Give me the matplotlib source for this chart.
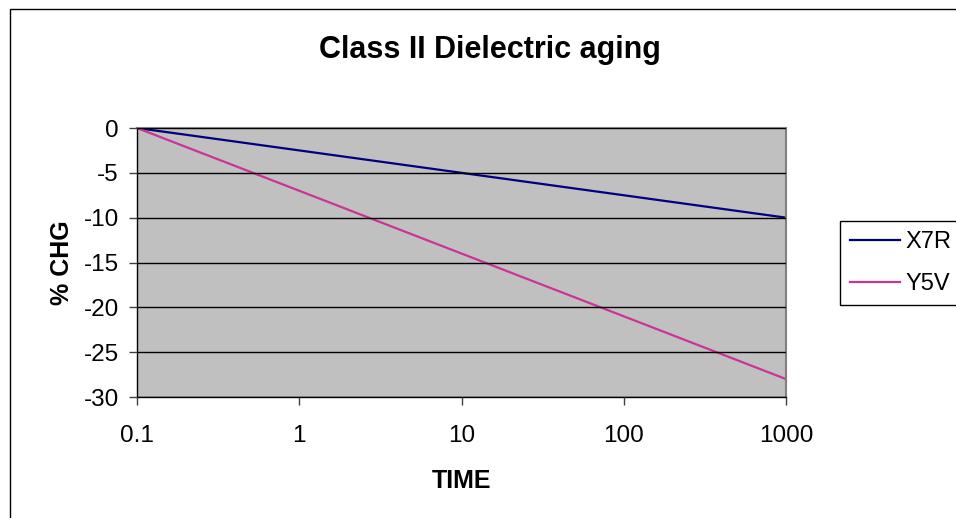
import matplotlib.pyplot as plt
from matplotlib.patches import Rectangle

# data
time = [0.1, 1, 10, 100, 1000]
x7r = [0, -2.5, -5, -7.5, -10]
y5v = [0, -7, -14, -21, -28]
x_ticks = [0.1, 1, 10, 100, 1000]
x_tick_labels = ["0.1", "1", "10", "100", "1000"]
y_ticks = [0, -5, -10, -15, -20, -25, -30]

plt.rcParams['font.family'] = ['Liberation Sans', 'DejaVu Sans']

W, H = 956, 518
fig = plt.figure(figsize=(W / 100, H / 100), dpi=100)

# outer chart border (cut off at right and bottom like the original)
fig.patches.append(Rectangle((10 / W, -0.1), 1.0, 1 - 9 / H + 0.1,
                             transform=fig.transFigure, fill=False,
                             edgecolor="black", linewidth=1))

ax = fig.add_axes([137 / W, 1 - 397 / H, (786 - 137) / W, (397 - 128) / H])
ax.set_facecolor("#C0C0C0")

ax.plot(time, x7r, color="#000080", linewidth=1.6, label="X7R")
ax.plot(time, y5v, color="#CC3399", linewidth=1.6, label="Y5V")

ax.set_xscale("log")
ax.set_xlim(0.1, 1000)
ax.set_ylim(-30, 0)
ax.set_xticks(x_ticks)
ax.set_xticklabels(x_tick_labels)
ax.minorticks_off()
ax.set_yticks(y_ticks)
ax.set_yticklabels([str(v) for v in y_ticks])

ax.grid(axis="y", color="black", linewidth=1)
ax.set_axisbelow(False)

for side in ["top", "right"]:
    ax.spines[side].set_color("#808080")
    ax.spines[side].set_linewidth(1.5)
for side in ["left", "bottom"]:
    ax.spines[side].set_color("black")
    ax.spines[side].set_linewidth(1)

ax.tick_params(axis="both", direction="out", length=6, width=1,
               color="#404040", labelsize=17.5)
ax.tick_params(axis="y", pad=7)
ax.tick_params(axis="x", pad=14)

ax.set_xlabel("TIME", fontsize=18, fontweight="bold", labelpad=16)
ax.set_ylabel("% CHG", fontsize=18, fontweight="bold", labelpad=7)

fig.text(490 / W, 1 - 50 / H, "Class II Dielectric aging", fontsize=22,
         fontweight="bold", ha="center", va="center")

leg = fig.legend(loc="upper left", bbox_to_anchor=(840 / W, 1 - 221 / H),
                 fontsize=17, frameon=True, fancybox=False, framealpha=1,
                 edgecolor="black", handlelength=2.1, handletextpad=0.25,
                 borderpad=0.42, labelspacing=0.85, borderaxespad=0)
leg.get_frame().set_linewidth(1)

fig.savefig("out.png", dpi=100)
